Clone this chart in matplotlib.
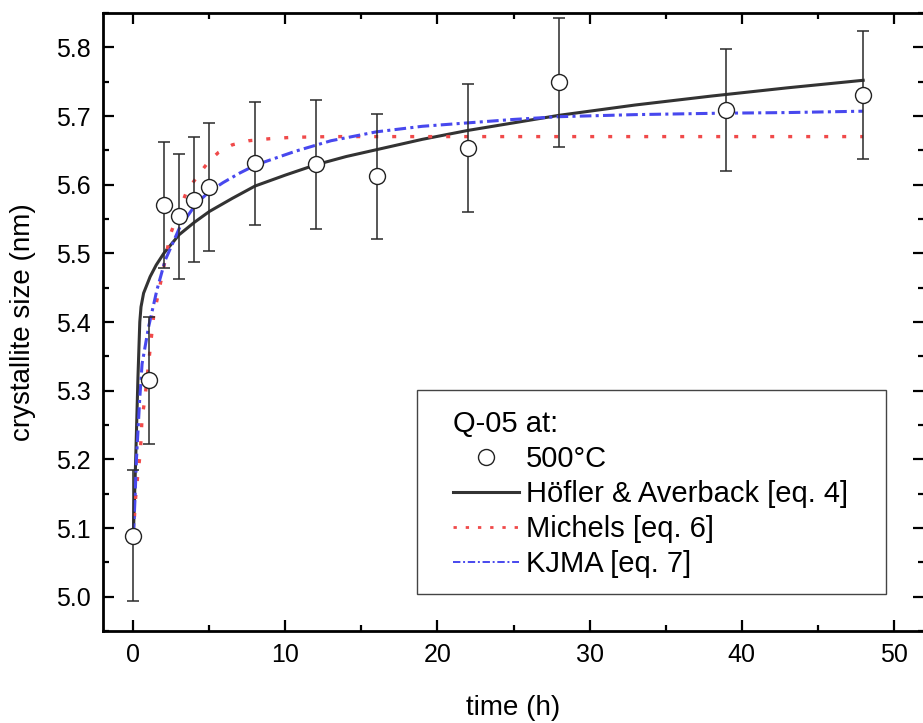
import matplotlib
matplotlib.use("Agg")
import matplotlib.pyplot as plt
from matplotlib.lines import Line2D
from matplotlib.patches import Rectangle
from matplotlib.ticker import MultipleLocator

plt.rcParams['font.family'] = ['Liberation Sans', 'DejaVu Sans']

# measured data (500 °C)
time_h = [0, 1, 2, 3, 4, 5, 8, 12, 16, 22, 28, 39, 48]
size_nm = [5.089, 5.315, 5.570, 5.554, 5.578, 5.597, 5.631, 5.630, 5.612, 5.653, 5.749, 5.709, 5.731]
size_err = [0.095, 0.093, 0.092, 0.091, 0.091, 0.093, 0.090, 0.094, 0.091, 0.093, 0.094, 0.089, 0.093]

# Höfler & Averback fit
hof_t = [0, 0.15, 0.3, 0.42, 0.5, 0.67, 1.1, 1.5, 2, 3, 4, 5, 6.5, 8, 10, 12, 14, 16, 19, 22, 25, 28, 33, 38, 43, 48]
hof_y = [5.09, 5.20, 5.32, 5.40, 5.422, 5.442, 5.466, 5.483, 5.500, 5.527, 5.545, 5.561, 5.580, 5.598,
         5.614, 5.629, 5.641, 5.651, 5.666, 5.679, 5.690, 5.701, 5.716, 5.729, 5.741, 5.752]

# Michels fit
mic_t = [0, 0.13, 0.3, 0.46, 0.57, 0.74, 1.0, 1.33, 1.55, 1.87, 2.42, 2.96, 3.5, 4.2, 5.0, 5.6, 6.5,
         7.6, 9, 10.5, 13, 16, 20, 30, 40, 48]
mic_y = [5.09, 5.14, 5.18, 5.211, 5.261, 5.285, 5.34, 5.408, 5.432, 5.466, 5.527, 5.559, 5.59, 5.612,
         5.635, 5.647, 5.658, 5.664, 5.667, 5.669, 5.670, 5.670, 5.670, 5.670, 5.670, 5.670]

# KJMA fit
kj_t = [0, 0.1, 0.2, 0.41, 0.57, 1.0, 1.55, 2.09, 3.07, 4.16, 5.0, 5.9, 7, 8.08, 10.7, 13, 16, 19, 22,
        25, 28, 33, 38.4, 43, 48]
kj_y = [5.09, 5.14, 5.20, 5.286, 5.339, 5.393, 5.447, 5.49, 5.539, 5.573, 5.590, 5.603, 5.617, 5.629,
        5.649, 5.664, 5.677, 5.685, 5.690, 5.695, 5.699, 5.702, 5.704, 5.705, 5.707]

legend_title = "Q-05 at:"
labels = ["500°C", "Höfler & Averback [eq. 4]", "Michels [eq. 6]", "KJMA [eq. 7]"]

W, H = 923, 723
fig = plt.figure(figsize=(W / 100, H / 100), dpi=100)
ax = fig.add_axes([103 / W, 1 - 631 / H, 821 / W, 618 / H])

c_black = '#333333'
c_red = '#f04a4a'
c_blue = '#4848ee'

ax.plot(hof_t, hof_y, color=c_black, lw=2.2, zorder=2)
ax.plot(mic_t, mic_y, color=c_red, lw=2.4, dashes=(1.2, 4.2), zorder=2)
ax.plot(kj_t, kj_y, color=c_blue, lw=2.2, dashes=(3.8, 1.4, 1.0, 1.4), zorder=2)

ax.errorbar(time_h, size_nm, yerr=size_err, fmt='none', ecolor='#2a2a2a', elinewidth=1.1,
            capsize=4.4, capthick=1.1, zorder=3)
ax.plot(time_h, size_nm, 'o', ms=11.5, mfc='white', mec='#222222', mew=1.0, zorder=4)

ax.set_xlim(-2, 52)
ax.set_ylim(4.95, 5.85)
ax.xaxis.set_major_locator(MultipleLocator(10))
ax.xaxis.set_minor_locator(MultipleLocator(5))
ax.yaxis.set_major_locator(MultipleLocator(0.1))
ax.yaxis.set_minor_locator(MultipleLocator(0.05))
ax.yaxis.set_major_formatter(matplotlib.ticker.FormatStrFormatter('%.1f'))

ax.tick_params(which='both', direction='in', top=True, right=True, width=1.6, colors='black')
ax.tick_params(which='major', length=8, labelsize=18, pad=9)
ax.tick_params(which='minor', length=4.5)
for s in ax.spines.values():
    s.set_linewidth(2.0)

ax.set_xlabel("time (h)", fontsize=20, labelpad=20)
ax.set_ylabel("crystallite size (nm)", fontsize=20, labelpad=14)

handles = [
    Line2D([], [], ls='none', marker='o', ms=11.5, mfc='white', mec='#222222', mew=1.0),
    Line2D([], [], color=c_black, lw=2.2),
    Line2D([], [], color=c_red, lw=2.0, dashes=(1.2, 3.2)),
    Line2D([], [], color=c_blue, lw=1.4, dashes=(3.8, 1.4, 1.0, 1.4)),
]
leg = ax.legend(handles, labels, title=legend_title, loc='upper left',
                bbox_to_anchor=((453 - 103) / 821, (631 - 410) / 618),
                frameon=False, fontsize=21, title_fontsize=21, alignment='left',
                borderpad=0, borderaxespad=0, handlelength=2.25, handletextpad=0.25,
                labelspacing=0.24)
leg.set_zorder(6)

ax.add_patch(Rectangle(((417 - 103) / 821, (631 - 594) / 618), (886 - 417) / 821, (594 - 390) / 618,
                       transform=ax.transAxes, fill=True, facecolor='white', edgecolor='#444444',
                       lw=1.0, zorder=5))

fig.savefig("out.png", dpi=100)
